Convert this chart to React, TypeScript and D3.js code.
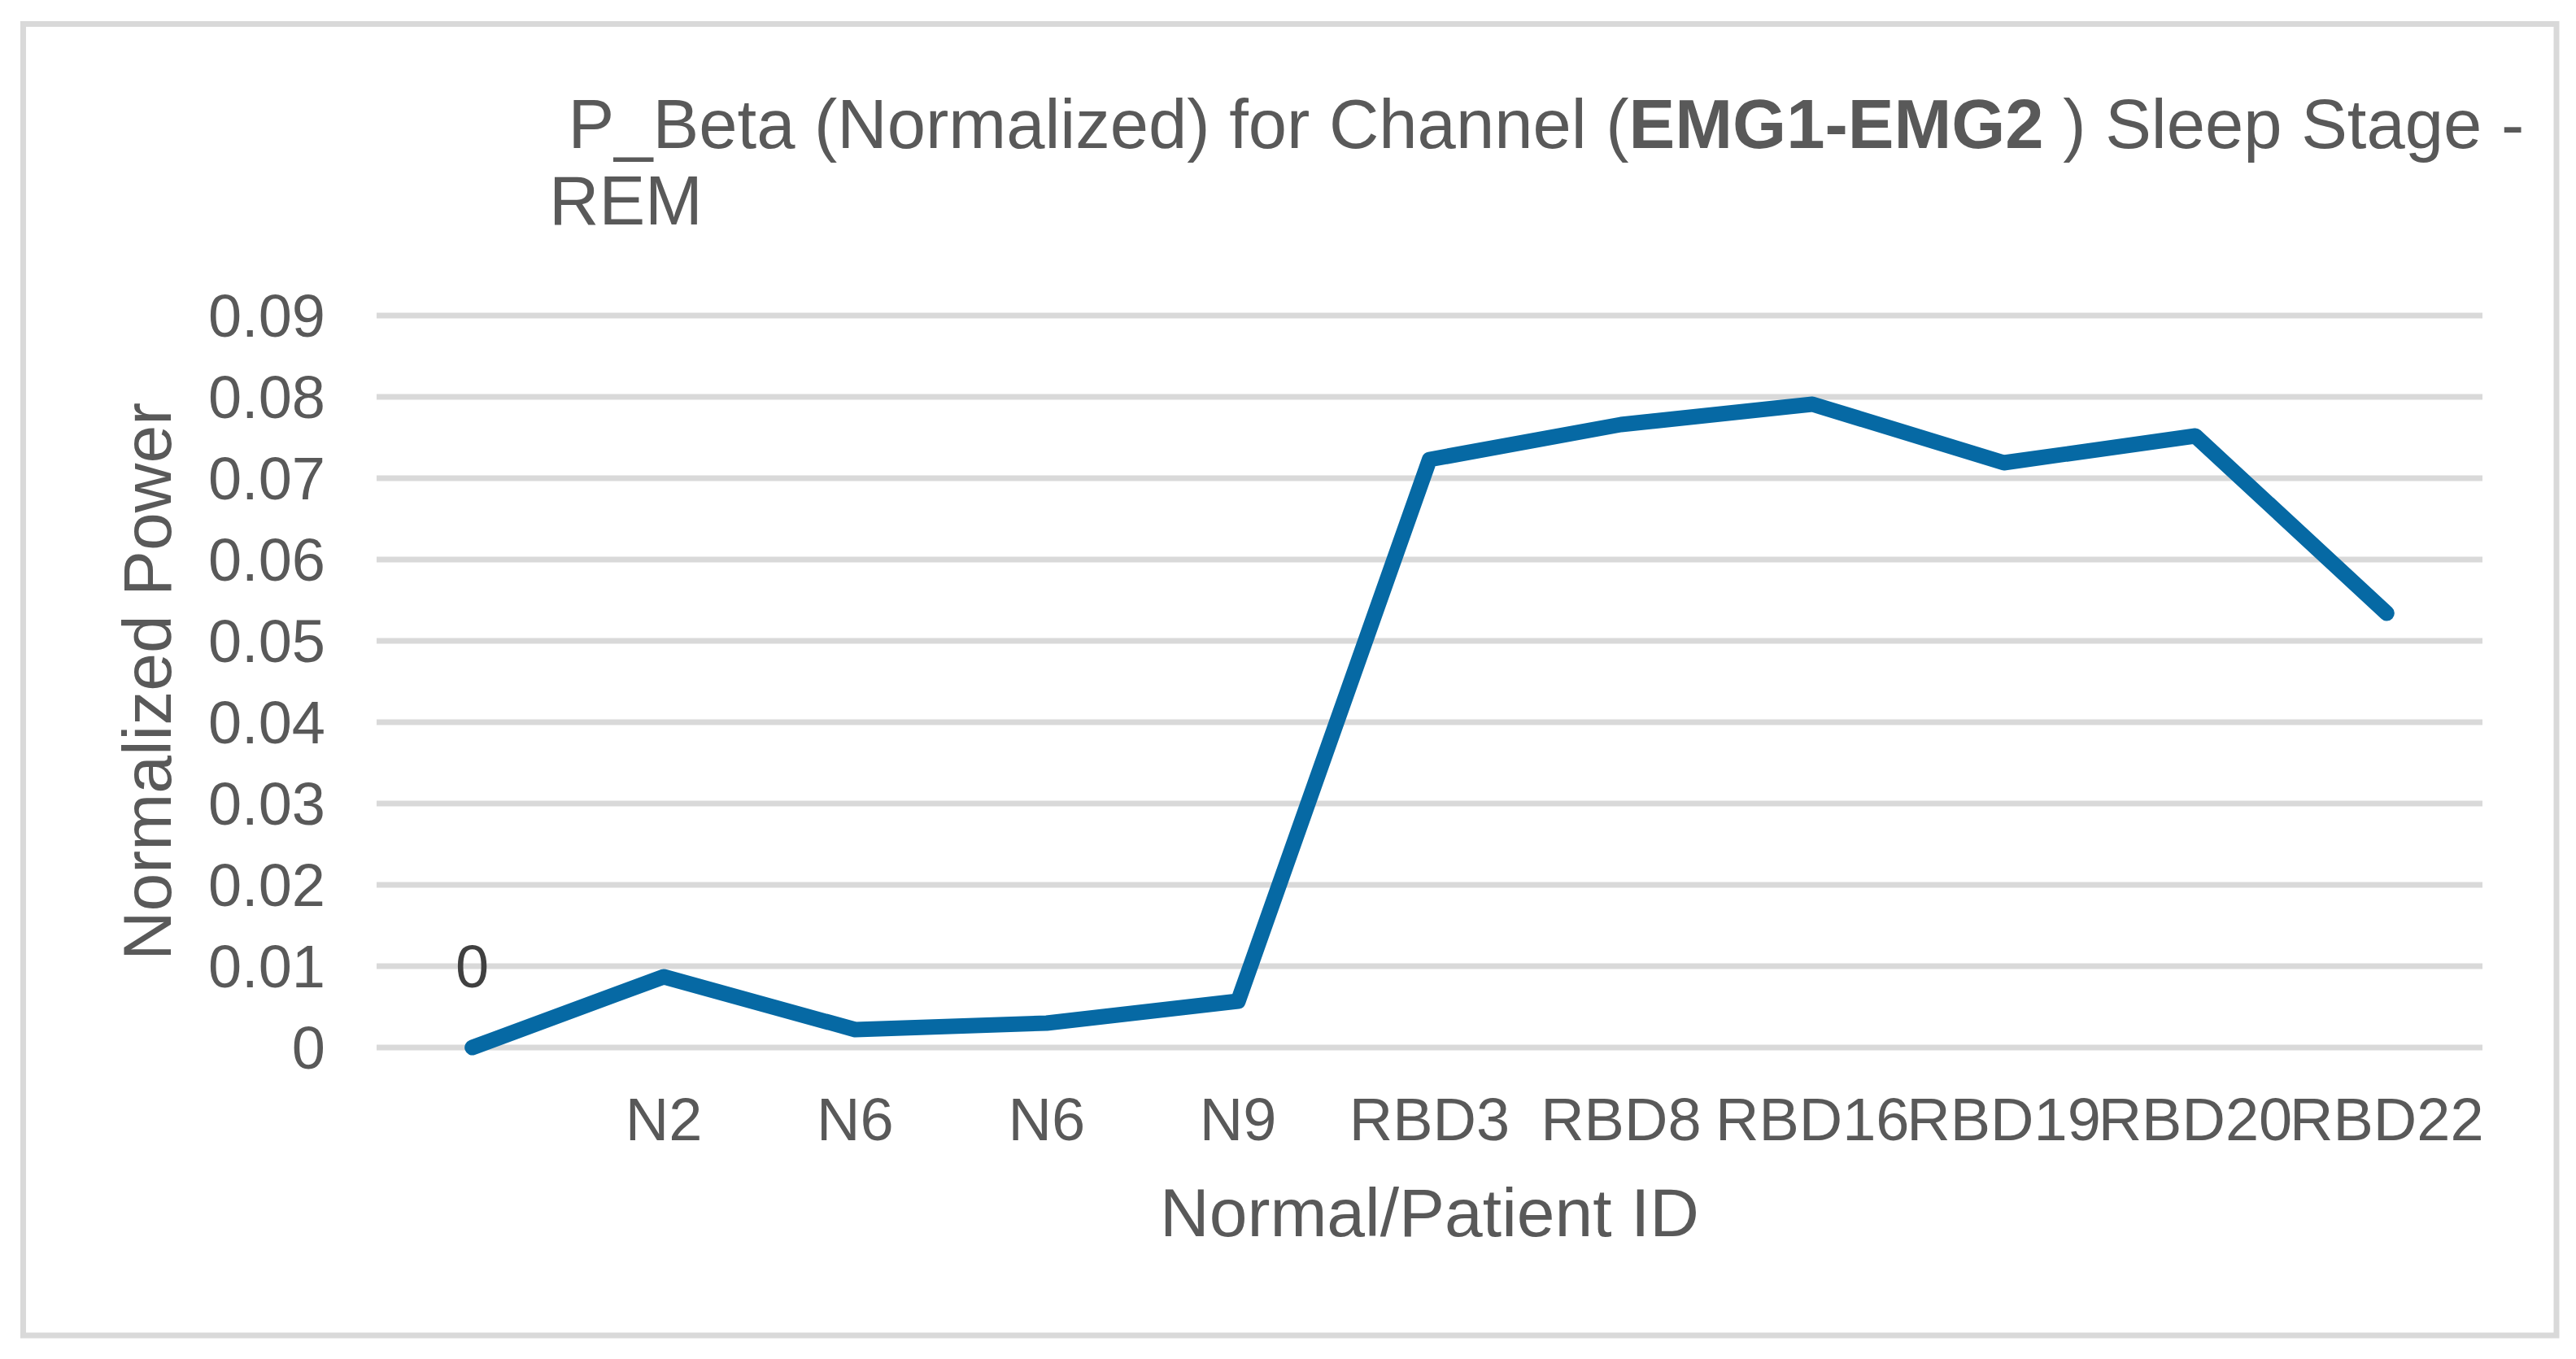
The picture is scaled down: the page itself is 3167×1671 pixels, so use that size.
import { useMemo } from 'react'

import { line, scaleBand, scaleLinear } from 'd3'

const categories = ['', 'N2', 'N6', 'N6', 'N9', 'RBD3', 'RBD8', 'RBD16', 'RBD19', 'RBD20', 'RBD22']
const powerValues = [0, 0.0087, 0.0022, 0.003, 0.0057, 0.0723, 0.0766, 0.0791, 0.0719, 0.0752, 0.0534]
const yTicks = [0, 0.01, 0.02, 0.03, 0.04, 0.05, 0.06, 0.07, 0.08, 0.09]
const yTickLabels = ['0', '0.01', '0.02', '0.03', '0.04', '0.05', '0.06', '0.07', '0.08', '0.09']
const firstPointLabel = '0'

const width = 3167
const height = 1671
const plot = { left: 463, right: 3052, top: 388, bottom: 1288 }
const font = '"Liberation Sans", Arial, sans-serif'
const textColor = '#595959'
const gridColor = '#d9d9d9'
const lineColor = '#0669a4'

export default function App() {
  const x = useMemo(
    () =>
      scaleBand<number>()
        .domain(categories.map((_, i) => i))
        .range([plot.left, plot.right]),
    []
  )
  const y = useMemo(() => scaleLinear().domain([0, 0.09]).range([plot.bottom, plot.top]), [])
  const cx = (i: number) => (x(i) ?? 0) + x.bandwidth() / 2

  const path = line<number>()
    .x((_, i) => cx(i))
    .y(d => y(d))(powerValues)

  return (
    <svg
      width={width}
      height={height}
      viewBox={`0 0 ${width} ${height}`}
      style={{ position: 'absolute', left: 0, top: 0, display: 'block', background: '#fff' }}
      fontFamily={font}
    >
      <rect x={0} y={0} width={width} height={height} fill="#fff" />
      <rect x={28.5} y={29.5} width={3114.5} height={1612.5} fill="none" stroke={gridColor} strokeWidth={7} />

      {/* title */}
      <text x={675} y={182} fontSize={85} fill={textColor} xmlSpace="preserve">
        <tspan> P_Beta (Normalized) for Channel (</tspan>
        <tspan fontWeight="bold">EMG1-EMG2</tspan>
        <tspan> ) Sleep Stage -</tspan>
      </text>
      <text x={675} y={276} fontSize={85} fill={textColor}>
        REM
      </text>

      {/* gridlines */}
      {yTicks.map(t => (
        <line key={t} x1={plot.left} x2={plot.right} y1={y(t)} y2={y(t)} stroke={gridColor} strokeWidth={7} />
      ))}

      {/* y tick labels */}
      {yTicks.map((t, i) => (
        <text key={t} x={400} y={y(t) + 26} fontSize={74} fill={textColor} textAnchor="end">
          {yTickLabels[i]}
        </text>
      ))}

      {/* x tick labels */}
      {categories.map((c, i) => (
        <text key={i} x={cx(i)} y={1402} fontSize={74} fill={textColor} textAnchor="middle">
          {c}
        </text>
      ))}

      {/* series */}
      <path
        d={path ?? ''}
        fill="none"
        stroke={lineColor}
        strokeWidth={19}
        strokeLinecap="round"
        strokeLinejoin="round"
      />

      <text x={cx(0)} y={1214} fontSize={74} fill="#404040" textAnchor="middle">
        {firstPointLabel}
      </text>

      {/* axis titles */}
      <text x={(plot.left + plot.right) / 2} y={1520} fontSize={84} fill={textColor} textAnchor="middle">
        Normal/Patient ID
      </text>
      <text
        transform={`translate(210, ${(plot.top + plot.bottom) / 2}) rotate(-90)`}
        fontSize={84}
        fill={textColor}
        textAnchor="middle"
      >
        Normalized Power
      </text>
    </svg>
  )
}
